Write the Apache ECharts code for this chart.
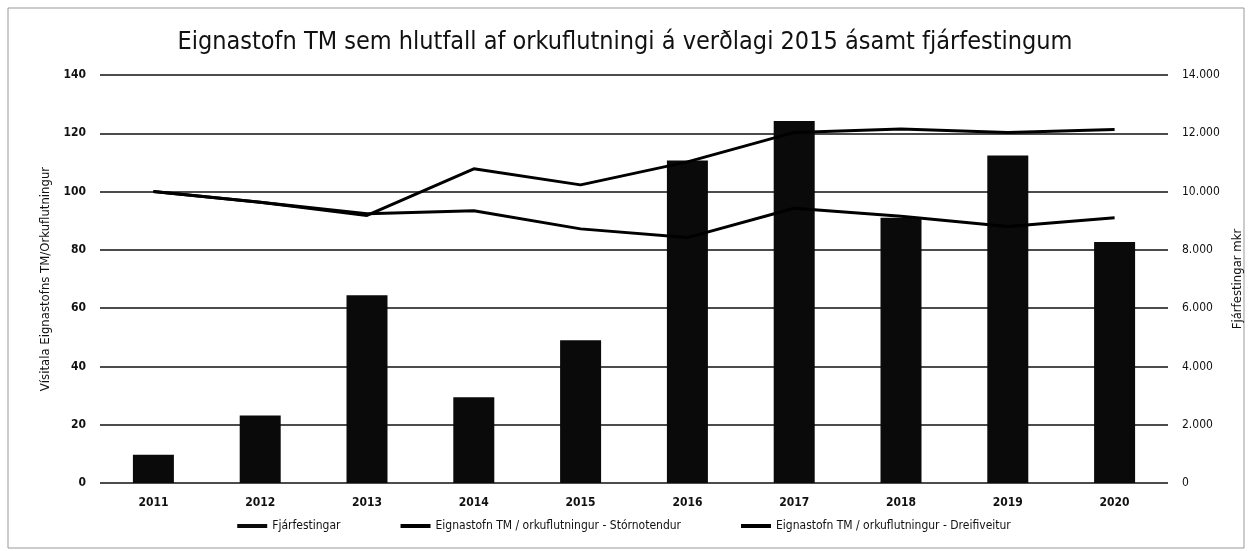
<!DOCTYPE html>
<html>
<head>
<meta charset="utf-8">
<script src="https://cdn.jsdelivr.net/npm/echarts@6/dist/echarts.min.js"></script>
<style>
  html, body { margin: 0; padding: 0; background: #fff; }
  #main { width: 1248px; height: 551px; }
</style>
</head>
<body>
<div id="main"></div>
<script>
var years = ['2011', '2012', '2013', '2014', '2015', '2016', '2017', '2018', '2019', '2020'];
var fjarfestingar = [970, 2320, 6440, 2940, 4900, 11070, 12420, 9100, 11240, 8270];
var storNotendur = [100, 96.3, 91.8, 107.8, 102.3, 110.2, 120.3, 121.5, 120.3, 121.3];
var dreifiveitur = [100, 96.3, 92.4, 93.4, 87.2, 84.2, 94.3, 91.5, 88.0, 91.0];

var fontFam = '"Liberation Sans Narrow", "DejaVu Sans Condensed", sans-serif';

var myChart = echarts.init(document.getElementById('main'));
var option = {
    backgroundColor: '#fff',
    animation: false,
    title: {
        text: 'Eignastofn TM sem hlutfall af orkuflutningi á verðlagi 2015 ásamt fjárfestingum',
        left: 620,
        textAlign: 'center',
        top: 25,
        textStyle: {
            fontFamily: fontFam,
            fontSize: 25,
            fontWeight: 'normal',
            color: '#111'
        }
    },
    legend: {
        bottom: 14,
        left: 'center',
        itemGap: 60,
        itemWidth: 30,
        itemHeight: 4,
        textStyle: { fontFamily: fontFam, fontSize: 12, color: '#111' },
        data: [
            { name: 'Fjárfestingar', icon: 'rect' },
            { name: 'Eignastofn TM / orkuflutningur - Stórnotendur', icon: 'rect' },
            { name: 'Eignastofn TM / orkuflutningur - Dreifiveitur', icon: 'rect' }
        ]
    },
    grid: {
        left: 100,
        right: 80,
        top: 75,
        bottom: 68,
        containLabel: false,
        outerBoundsMode: 'none'
    },
    xAxis: [
        {
            type: 'category',
            data: years,
            axisLine: { show: false },
            axisTick: { show: false },
            axisLabel: {
                margin: 14,
                fontFamily: fontFam,
                fontSize: 12,
                fontWeight: 'bold',
                color: '#111'
            }
        }
    ],
    yAxis: [
        {
            type: 'value',
            min: 0,
            max: 140,
            interval: 20,
            name: 'Vísitala Eignastofns TM/Orkuflutningur',
            nameLocation: 'middle',
            nameGap: 36,
            nameTextStyle: { fontFamily: fontFam, fontSize: 13, color: '#111' },
            axisLabel: {
                margin: 14,
                fontFamily: fontFam,
                fontSize: 12,
                fontWeight: 'bold',
                color: '#111'
            },
            splitLine: { lineStyle: { color: '#111', width: 1.5 } }
        },
        {
            type: 'value',
            min: 0,
            max: 14000,
            interval: 2000,
            name: 'Fjárfestingar mkr',
            nameLocation: 'middle',
            nameGap: 34,
            nameTextStyle: { fontFamily: fontFam, fontSize: 13, color: '#111' },
            splitLine: { show: false },
            axisLabel: {
                margin: 14,
                fontFamily: fontFam,
                fontSize: 12,
                color: '#111',
                formatter: function (v) {
                    return String(v).replace(/\B(?=(\d{3})+(?!\d))/g, '.');
                }
            }
        }
    ],
    series: [
        {
            name: 'Fjárfestingar',
            type: 'bar',
            yAxisIndex: 1,
            barWidth: 41,
            itemStyle: { color: '#0a0a0a' },
            data: fjarfestingar
        },
        {
            name: 'Eignastofn TM / orkuflutningur - Stórnotendur',
            type: 'line',
            symbol: 'none',
            lineStyle: { color: '#000', width: 3 },
            itemStyle: { color: '#000' },
            data: storNotendur
        },
        {
            name: 'Eignastofn TM / orkuflutningur - Dreifiveitur',
            type: 'line',
            symbol: 'none',
            lineStyle: { color: '#000', width: 3 },
            itemStyle: { color: '#000' },
            data: dreifiveitur
        }
    ],
    graphic: [
        {
            type: 'rect',
            shape: { x: 8, y: 8, width: 1236, height: 540 },
            style: { fill: 'none', stroke: '#999', lineWidth: 1 }
        }
    ]
};
myChart.setOption(option);
</script>
</body>
</html>
